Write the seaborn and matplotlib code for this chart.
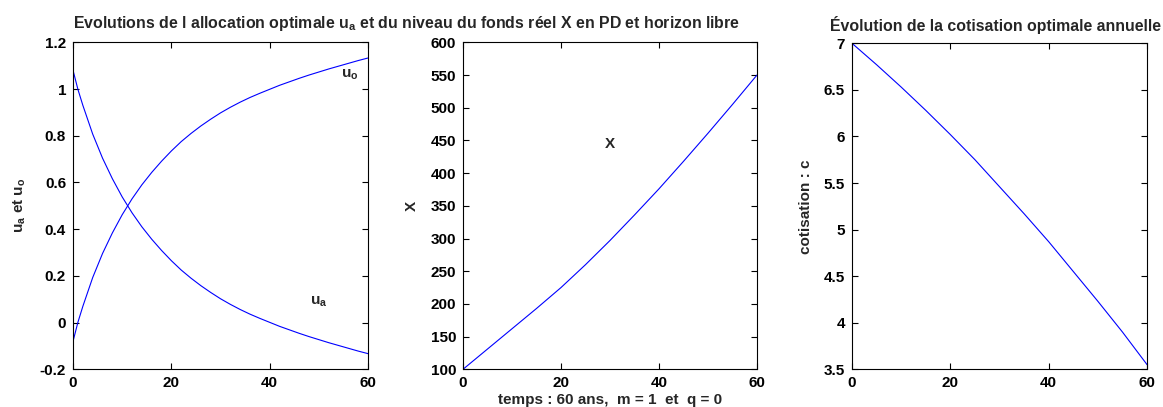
import numpy as np
import pandas as pd
import matplotlib
matplotlib.use("Agg")
import matplotlib.pyplot as plt
import seaborn as sns

# ---- data ----
t_alloc = [0, 1, 2, 4, 6, 8, 10, 12, 14, 16, 18, 20, 22, 24, 26, 28, 30,
           32, 34, 36, 38, 40, 42, 44, 46, 48, 50, 52, 54, 56, 58, 60]
u_a = [1.080, 0.998, 0.930, 0.807, 0.704, 0.616, 0.538, 0.470, 0.410, 0.357,
       0.309, 0.265, 0.225, 0.190, 0.158, 0.129, 0.102, 0.078, 0.056, 0.036,
       0.018, 0.001, -0.016, -0.031, -0.046, -0.060, -0.073, -0.086, -0.098,
       -0.110, -0.122, -0.133]
u_o = [-0.080, 0.002, 0.070, 0.193, 0.296, 0.384, 0.462, 0.530, 0.590, 0.643,
       0.691, 0.735, 0.775, 0.810, 0.842, 0.871, 0.898, 0.922, 0.944, 0.964,
       0.982, 0.999, 1.016, 1.031, 1.046, 1.060, 1.073, 1.086, 1.098, 1.110,
       1.122, 1.133]

t_fund = [0, 5, 10, 15, 20, 25, 30, 35, 40, 45, 50, 55, 60]
X_fund = [100, 131, 162, 193, 225, 260, 297, 336, 376, 418, 461, 505, 550]

t_cot = [0, 5, 10, 15, 20, 25, 30, 35, 40, 45, 50, 55, 60]
c_cot = [7.00, 6.77, 6.53, 6.28, 6.02, 5.75, 5.46, 5.17, 4.87, 4.55, 4.23, 3.90, 3.55]

x_ticks = [0, 20, 40, 60]
y1_ticks = [-0.2, 0, 0.2, 0.4, 0.6, 0.8, 1, 1.2]
y1_labels = ["-0.2", "0", "0.2", "0.4", "0.6", "0.8", "1", "1.2"]
y2_ticks = [100, 150, 200, 250, 300, 350, 400, 450, 500, 550, 600]
y3_ticks = [3.5, 4, 4.5, 5, 5.5, 6, 6.5, 7]
y3_labels = ["3.5", "4", "4.5", "5", "5.5", "6", "6.5", "7"]

main_title = "Evolutions de l allocation optimale u$_\\mathregular{a}$ et du niveau du fonds réel X en PD et horizon libre"
title3 = "Évolution de la cotisation optimale annuelle"

df_alloc = pd.DataFrame({"t": t_alloc, "u_a": u_a, "u_o": u_o})
df_fund = pd.DataFrame({"t": t_fund, "X": X_fund})
df_cot = pd.DataFrame({"t": t_cot, "c": c_cot})

sns.set_theme(style="white")
plt.rcParams["font.family"] = ["Liberation Sans", "DejaVu Sans"]
plt.rcParams["font.weight"] = "bold"
plt.rcParams["mathtext.default"] = "regular"
fs = 11
fs_title = 11.4

fig = plt.figure(figsize=(11.63, 4.07), dpi=100)
fig.patch.set_facecolor("white")
ax1 = fig.add_axes([0.0628, 0.0926, 0.2537, 0.8034])
ax2 = fig.add_axes([0.3981, 0.0926, 0.2528, 0.8034])
ax3 = fig.add_axes([0.7326, 0.0926, 0.2537, 0.8010])

blue = "#0000ff"
lw = 0.8

sns.lineplot(data=df_alloc, x="t", y="u_a", ax=ax1, color=blue, linewidth=lw)
sns.lineplot(data=df_alloc, x="t", y="u_o", ax=ax1, color=blue, linewidth=lw)
sns.lineplot(data=df_fund, x="t", y="X", ax=ax2, color=blue, linewidth=lw)
sns.lineplot(data=df_cot, x="t", y="c", ax=ax3, color=blue, linewidth=lw)

for ax in (ax1, ax2, ax3):
    ax.set_xlim(0, 60)
    ax.set_xticks(x_ticks)
    ax.set_xticklabels([str(v) for v in x_ticks], fontweight="bold", fontsize=fs)
    ax.tick_params(direction="in", length=4, width=0.8, top=True, right=True,
                   bottom=True, left=True, labelsize=fs, colors="black")
    ax.tick_params(axis="y", pad=5)
    ax.tick_params(axis="x", pad=5)
    for s in ax.spines.values():
        s.set_color("black")
        s.set_linewidth(0.8)
    ax.set_xlabel("")
    ax.grid(False)

ax1.set_ylim(-0.2, 1.2)
ax1.set_yticks(y1_ticks)
ax1.set_yticklabels(y1_labels, fontweight="bold", fontsize=fs)
ax1.set_ylabel("u$_\\mathregular{a}$ et u$_\\mathregular{o}$", fontsize=fs, fontweight="bold")
ax1.yaxis.set_label_coords(-0.153, 0.5)
ax1.text(56.3, 1.06, "u$_\\mathregular{o}$", fontsize=fs, fontweight="bold", ha="center", va="center")
ax1.text(49.9, 0.09, "u$_\\mathregular{a}$", fontsize=fs, fontweight="bold", ha="center", va="center")

ax2.set_ylim(100, 600)
ax2.set_yticks(y2_ticks)
ax2.set_yticklabels([str(v) for v in y2_ticks], fontweight="bold", fontsize=fs)
ax2.set_ylabel("X", fontsize=fs, fontweight="bold")
ax2.yaxis.set_label_coords(-0.150, 0.5)
ax2.set_xlabel("temps : 60 ans,  m = 1  et  q = 0", fontsize=fs, fontweight="bold")
ax2.xaxis.set_label_coords(0.5, -0.072)
ax2.text(30, 445, "X", fontsize=fs, fontweight="bold", ha="center", va="center")

ax3.set_ylim(3.5, 7)
ax3.set_yticks(y3_ticks)
ax3.set_yticklabels(y3_labels, fontweight="bold", fontsize=fs)
ax3.set_ylabel("cotisation : c", fontsize=fs, fontweight="bold")
ax3.yaxis.set_label_coords(-0.132, 0.5)

fig.text(407 / 1163, 1 - 28.3 / 407, main_title, fontsize=fs_title, fontweight="bold",
         ha="center", va="baseline")
fig.text(995 / 1163, 1 - 31.5 / 407, title3, fontsize=fs_title, fontweight="bold",
         ha="center", va="baseline")

fig.savefig("out.png", dpi=100, facecolor="white")
